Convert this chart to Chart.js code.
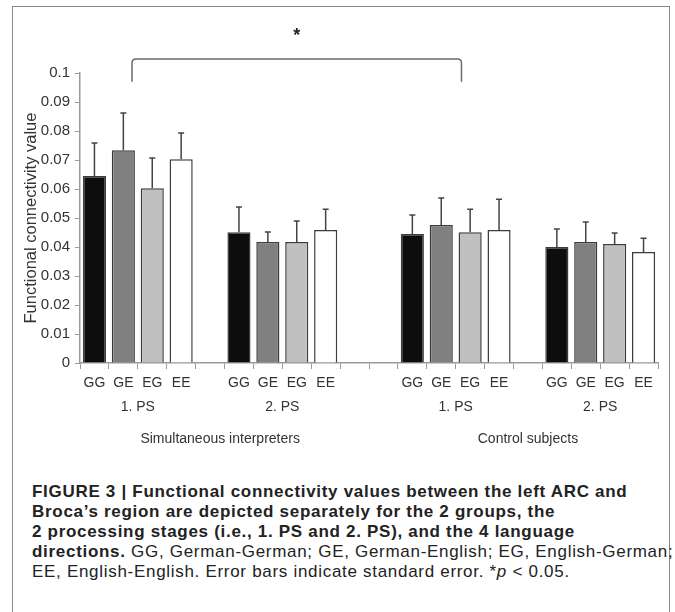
<!DOCTYPE html>
<html>
<head>
<meta charset="utf-8">
<script src="https://cdn.jsdelivr.net/npm/chart.js@4.4.0/dist/chart.umd.min.js"></script>
<style>
  html, body { margin: 0; padding: 0; background: #fff; }
  body { width: 675px; height: 612px; position: relative; overflow: hidden; font-family: "Liberation Sans", Arial, sans-serif; }
  #frame { position: absolute; left: 12px; top: 6px; width: 656px; height: 650px; border: 1.5px solid #8a8a8a; }
  #wrap { position: absolute; left: 0; top: 0; width: 675px; height: 470px; }
  #caption { position: absolute; left: 32px; top: 482px; font-size: 17px; line-height: 20px; letter-spacing: 0.7px; color: #222; white-space: nowrap; }
</style>
</head>
<body>
<div id="frame"></div>
<div id="wrap"><canvas id="chart" width="675" height="470"></canvas></div>
<div id="caption">
  <b>FIGURE 3 | Functional connectivity values between the left ARC and</b><br>
  <b>Broca’s region are depicted separately for the 2 groups, the</b><br>
  <b>2 processing stages (i.e., 1. PS and 2. PS), and the 4 language</b><br>
  <b>directions.</b> GG, German-German; GE, German-English; EG, English-German;<br>
  EE, English-English. Error bars indicate standard error. *<i>p</i> &lt; 0.05.
</div>
<script>
const langs = ["GG", "GE", "EG", "EE"];
const langColors = ["#0d0d0d", "#808080", "#c0c0c0", "#ffffff"];

// values per group (1. PS / 2. PS for each subject group)
const interp1 = [0.0645, 0.0734, 0.0603, 0.0703];
const interp1Err = [0.0114, 0.0128, 0.0104, 0.0090];
const interp2 = [0.0451, 0.0417, 0.0417, 0.0459];
const interp2Err = [0.0087, 0.0035, 0.0073, 0.0071];
const control1 = [0.0445, 0.0476, 0.0451, 0.0459];
const control1Err = [0.0065, 0.0093, 0.0079, 0.0106];
const control2 = [0.0400, 0.0417, 0.0410, 0.0383];
const control2Err = [0.0062, 0.0069, 0.0038, 0.0047];

const stageLabels = ["1. PS", "2. PS", "1. PS", "2. PS"];
const groupLabels = ["Simultaneous interpreters", "Control subjects"];
const groupStart = [0, 5, 11, 16];   // first slot of each block of 4 bars
const groupCenter = [4.35, 15];      // slot where the group label sits
const slotCount = 20;
const yTicks = [0, 0.01, 0.02, 0.03, 0.04, 0.05, 0.06, 0.07, 0.08, 0.09, 0.1];

// significance bracket between the two 1. PS blocks
const bracketFrom = 1.3, bracketTo = 12.7;
const bracketLow = 0.097, bracketHigh = 0.1048, starLevel = 0.1137;

const FONT = '"Liberation Sans", Arial, sans-serif';

const blocks = [
  [interp1, interp1Err],
  [interp2, interp2Err],
  [control1, control1Err],
  [control2, control2Err],
];

const labels = new Array(slotCount).fill("");
const values = new Array(slotCount).fill(null);
const errors = new Array(slotCount).fill(null);
const colors = new Array(slotCount).fill("#fff");
blocks.forEach(([vals, errs], b) => {
  vals.forEach((v, i) => {
    const s = groupStart[b] + i;
    labels[s] = langs[i];
    values[s] = v;
    errors[s] = errs[i];
    colors[s] = langColors[i];
  });
});

const extras = {
  id: "extras",
  afterDatasetsDraw(chart) {
    const { ctx } = chart;
    const x = chart.scales.x, y = chart.scales.y;
    ctx.save();

    // error bars (upper half only)
    ctx.strokeStyle = "#444";
    ctx.lineWidth = 1.5;
    values.forEach((v, i) => {
      if (v == null) return;
      const px = x.getPixelForValue(i);
      const top = y.getPixelForValue(v);
      const end = y.getPixelForValue(v + errors[i]);
      ctx.beginPath();
      ctx.moveTo(px, top);
      ctx.lineTo(px, end);
      ctx.moveTo(px - 3, end);
      ctx.lineTo(px + 3, end);
      ctx.stroke();
    });

    // bracket + star
    const bx1 = x.getPixelForValue(bracketFrom);
    const bx2 = x.getPixelForValue(bracketTo);
    const yLow = y.getPixelForValue(bracketLow);
    const yHigh = y.getPixelForValue(bracketHigh);
    const r = 4;
    ctx.strokeStyle = "#6a6a6a";
    ctx.lineWidth = 1.5;
    ctx.beginPath();
    ctx.moveTo(bx1, yLow);
    ctx.lineTo(bx1, yHigh + r);
    ctx.quadraticCurveTo(bx1, yHigh, bx1 + r, yHigh);
    ctx.lineTo(bx2 - r, yHigh);
    ctx.quadraticCurveTo(bx2, yHigh, bx2, yHigh + r);
    ctx.lineTo(bx2, yLow);
    ctx.stroke();

    ctx.fillStyle = "#222";
    ctx.font = "bold 18px " + FONT;
    ctx.textAlign = "center";
    ctx.textBaseline = "middle";
    ctx.fillText("*", (bx1 + bx2) / 2, y.getPixelForValue(starLevel) + 3);

    // stage + group labels under the axis
    ctx.fillStyle = "#333";
    ctx.font = "14px " + FONT;
    stageLabels.forEach((t, b) => {
      ctx.fillText(t, x.getPixelForValue(groupStart[b] + 1.5), 407);
    });
    groupLabels.forEach((t, g) => {
      ctx.fillText(t, x.getPixelForValue(groupCenter[g]), 439);
    });
    ctx.restore();
  },
};

new Chart(document.getElementById("chart"), {
  type: "bar",
  data: {
    labels,
    datasets: [{
      data: values,
      backgroundColor: colors,
      borderColor: "#3c3c3c",
      borderWidth: 1.5,
      borderSkipped: "bottom",
      barPercentage: 0.8,
      categoryPercentage: 1,
    }],
  },
  options: {
    responsive: false,
    devicePixelRatio: 1,
    animation: false,
    layout: { padding: { left: 0, right: 17, top: 73, bottom: 0 } },
    plugins: { legend: { display: false }, tooltip: { enabled: false } },
    scales: {
      x: {
        afterFit(scale) { scale.height = 107; },
        grid: { offset: true, drawOnChartArea: false, drawTicks: true, tickLength: 6, color: "#9a9a9a" },
        border: { display: true, color: "#9a9a9a", width: 1.5 },
        ticks: { color: "#333", font: { family: FONT, size: 14 }, padding: 6, autoSkip: false, maxRotation: 0 },
      },
      y: {
        min: 0,
        max: 0.1,
        afterFit(scale) { scale.width = 80; },
        afterBuildTicks(scale) { scale.ticks = yTicks.map(v => ({ value: v })); },
        grid: { drawOnChartArea: false, drawTicks: true, tickLength: 5, color: "#9a9a9a" },
        border: { display: true, color: "#9a9a9a", width: 1.5 },
        ticks: {
          color: "#333",
          font: { family: FONT, size: 15 },
          padding: 5,
          callback: v => String(Number(v.toFixed(2))),
        },
        title: {
          display: true,
          text: "Functional connectivity value",
          color: "#333",
          font: { family: FONT, size: 16.5 },
          padding: { top: 22, bottom: 0 },
        },
      },
    },
  },
  plugins: [extras],
});
</script>
</body>
</html>
